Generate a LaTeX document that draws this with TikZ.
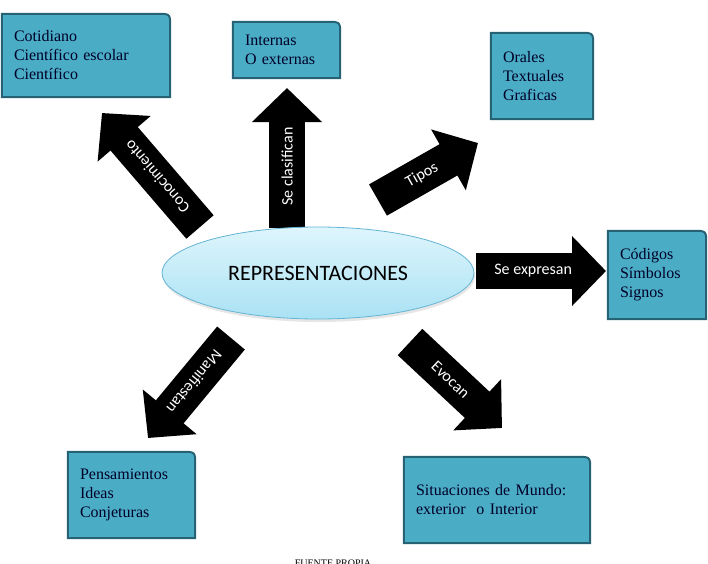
\documentclass[tikz,border=0pt]{standalone}
\usepackage{fontspec}
\setmainfont{Liberation Serif}
\newfontfamily\calibri{Carlito}
\usetikzlibrary{arrows.meta,backgrounds,shadows,shapes.geometric}
\definecolor{cajafill}{RGB}{75,172,198}
\definecolor{cajaline}{RGB}{38,98,116}
\definecolor{eliptop}{RGB}{222,245,252}
\definecolor{elipbot}{RGB}{170,226,244}
\definecolor{elipline}{RGB}{100,180,212}

\begin{document}
\begin{tikzpicture}[x=1pt,y=-1pt,
  caja/.style 2 args={rectangle,inner xsep=12pt,inner ysep=0pt,align=left,
    text width=#1,minimum height=#2,text=black!85!blue,
    font=\fontsize{16}{19}\selectfont},
  cajabg/.style={fill=cajafill,draw=cajaline,line width=2pt},
  elipse/.style={ellipse,minimum width=312,minimum height=92,inner sep=0pt,
    top color=eliptop,bottom color=elipbot,draw=elipline,line width=.8pt,
    drop shadow={opacity=.2,shadow xshift=1pt,shadow yshift=-3pt},
    font=\calibri\fontsize{22}{26}\selectfont},
  flecha/.style={line width=36pt,-{Triangle[length=34pt,width=68pt]}},
  etiq/.style={pos=.44,sloped,allow upside down,text=white,
    font=\calibri\fontsize{16}{19}\selectfont}]
\clip (0,0) rectangle (708,563);
\node[caja={144pt}{83pt}] (b1) at (86,55.5) {Cotidiano\\Científico escolar\\Científico};
\node[caja={83pt}{56pt}] (b2) at (286.5,50) {Internas\\O externas};
\node[caja={78pt}{86pt}] (b3) at (542,76) {Orales\\Textuales\\Graficas};
\node[caja={74pt}{88pt}] (b4) at (657,275) {Códigos\\Símbolos\\Signos};
\node[caja={103pt}{86pt}] (b5) at (131.5,495) {Pensamientos\\Ideas\\Conjeturas};
\node[caja={162pt}{86pt}] (b6) at (497,500) {Situaciones de Mundo:\\exterior\ \ o Interior};
\begin{scope}[on background layer]
\foreach \n in {b1,b2,b3,b4,b5,b6}
  \draw[cajabg] (\n.south west) -- (\n.north west) -- ([xshift=-13pt]\n.north east)
    .. controls (\n.north east) .. ([yshift=-13pt]\n.north east) -- (\n.south east) -- cycle;
\end{scope}
% flechas
\coordinate (conoc0) at (200,227);
\coordinate (conoc1) at (102,113);
\coordinate (clasif0) at (287,228);
\coordinate (clasif1) at (287,88);
\coordinate (tipos0) at (378,200);
\coordinate (tipos1) at (478,143);
\coordinate (expr0) at (476,271);
\coordinate (expr1) at (606,271);
\coordinate (evoc0) at (410,342);
\coordinate (evoc1) at (502,428);
\coordinate (manif0) at (231,338);
\coordinate (manif1) at (148,438);
\draw[flecha] (conoc0) -- node[etiq] {Conocimiento} (conoc1);
\draw[flecha] (clasif0) -- node[etiq] {Se clasifican} (clasif1);
\draw[flecha] (tipos0) -- node[etiq] {Tipos} (tipos1);
\draw[flecha] (expr0) -- node[etiq] {Se expresan} (expr1);
\draw[flecha] (evoc0) -- node[etiq] {Evocan} (evoc1);
\draw[flecha] (manif0) -- node[etiq] {Manifiestan} (manif1);
\node[elipse] (rep) at (318,273) {REPRESENTACIONES};
\node[font=\fontsize{10}{12}\selectfont] (fuente) at (333,563) {FUENTE PROPIA};
\end{tikzpicture}
\end{document}
